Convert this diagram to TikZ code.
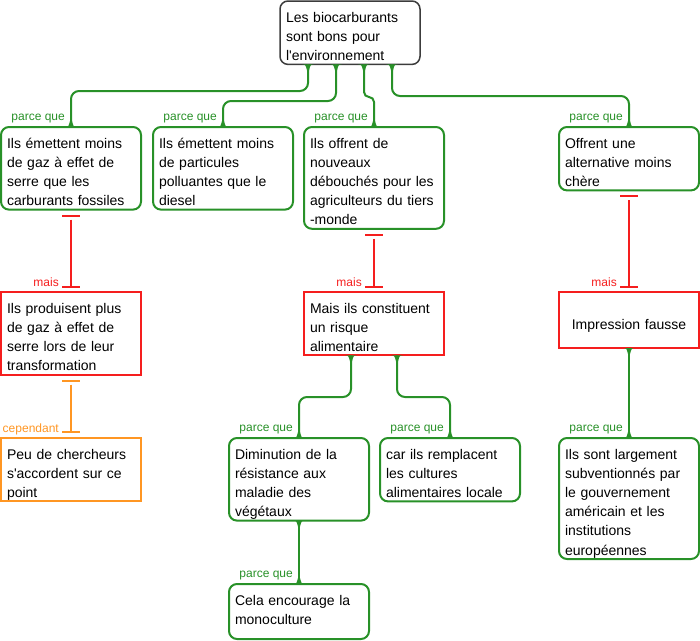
\documentclass[tikz,border=0pt]{standalone}
\usepackage{fontspec}
\newfontfamily\lsans{Liberation Sans}
\usetikzlibrary{calc}
\definecolor{gcol}{RGB}{40,145,40}
\definecolor{rcol}{RGB}{245,30,30}
\definecolor{ocol}{RGB}{255,150,35}
\definecolor{kcol}{RGB}{60,60,60}
\begin{document}
\begin{tikzpicture}[x=1pt,y=-1pt,
  box/.style={anchor=north west, outer sep=0pt, align=left, inner xsep=6pt, inner ysep=0pt,
    text height=21pt, line width=2pt, font=\lsans\fontsize{14}{19.2}\selectfont, fill=white},
  gbox/.style={box, draw=gcol, rounded corners=8pt},
  rbox/.style={box, draw=rcol},
  obox/.style={box, draw=ocol},
  kbox/.style={box, draw=kcol, rounded corners=8pt, line width=1.5pt},
  gconn/.style={draw=gcol, line width=2pt, rounded corners=8pt},
  rconn/.style={draw=rcol, line width=2pt},
  oconn/.style={draw=ocol, line width=2pt},
  lab/.style={anchor=base east, inner sep=0pt, font=\lsans\fontsize{12}{14}\selectfont},
  fdn/.pic={\fill (-6,0) .. controls (-2.5,0.3) .. (-1,6) -- (1,6) .. controls (2.5,0.3) .. (6,0) -- cycle;},
  fup/.pic={\fill (-6,0) .. controls (-2.5,-0.3) .. (-1,-6) -- (1,-6) .. controls (2.5,-0.3) .. (6,0) -- cycle;}
]
\useasboundingbox (0,0) rectangle (700,640);

% boxes
\node[kbox, text width=128pt, text depth=42.4pt] (R) at (280,1) {Les biocarburants\\sont bons pour\\l'environnement};
\node[gbox, text width=128pt, text depth=61.6pt] (A) at (1,127) {Ils émettent moins\\de gaz à effet de\\serre que les\\carburants fossiles};
\node[gbox, text width=128pt, text depth=61.6pt] (B) at (153,127) {Ils émettent moins\\de particules\\polluantes que le\\diesel};
\node[gbox, text width=128pt, text depth=80.8pt] (C) at (304,127) {Ils offrent de\\nouveaux\\débouchés pour les\\agriculteurs du tiers\\-monde};
\node[gbox, text width=128pt, text depth=42.4pt] (D) at (559,127) {Offrent une\\alternative moins\\chère};
\node[rbox, text width=128pt, text depth=61.6pt] (E) at (1,292) {Ils produisent plus\\de gaz à effet de\\serre lors de leur\\transformation};
\node[rbox, text width=128pt, text depth=42.4pt] (F) at (304,292) {Mais ils constituent\\un risque\\alimentaire};
\node[rbox, text width=128pt, text height=37pt, text depth=19pt, align=center] (G) at (559,292) {Impression fausse};
\node[obox, text width=128pt, text depth=42.4pt] (H) at (1,438) {Peu de chercheurs\\s'accordent sur ce\\point};
\node[gbox, text width=128pt, text depth=61.6pt] (I) at (229,438) {Diminution de la\\résistance aux\\maladie des\\végétaux};
\node[gbox, text width=128pt, text depth=42.4pt] (J) at (380,438) {car ils remplacent\\les cultures\\alimentaires locale};
\node[gbox, text width=128pt, text depth=100pt] (K) at (559,438) {Ils sont largement\\subventionnés par\\le gouvernement\\américain et les\\institutions\\européennes};
\node[gbox, text width=128pt, text depth=34pt] (L) at (229,584) {Cela encourage la\\monoculture};

% green connectors
\draw[gconn] ([xshift=28pt]R.south west) -- ++(0,26.6) -| (A.north);
\draw[gconn] ([xshift=56pt]R.south west) -- ++(0,36.6) -| (B.north);
\draw[gconn, rounded corners=5pt] ([xshift=84pt]R.south west) -- ++(0,32.6) -| (C.north);
\draw[gconn] ([xshift=112pt]R.south west) -- ++(0,31.6) -| (D.north);
\draw[gconn] ([xshift=47pt]F.south west) -- ++(0,41.6) -| (I.north);
\draw[gconn] ([xshift=93pt]F.south west) -- ++(0,41.6) -| (J.north);
\draw[gconn] (I.south) -- (L.north);
\draw[gconn] (G.south) -- (K.north);

\foreach \s in {28,56,84,112} {\pic[color=gcol] at ([xshift=\s pt]R.south west) {fdn};}
\pic[color=gcol] at ([xshift=47pt]F.south west) {fdn};
\pic[color=gcol] at ([xshift=93pt]F.south west) {fdn};
\pic[color=gcol] at (I.south) {fdn};
\pic[color=gcol] at (G.south) {fdn};
\foreach \n in {A,B,C,D,I,J,K,L} {\pic[color=gcol] at (\n.north) {fup};}

% green labels
\foreach \n in {A,B,C,D,I,J,K,L} {\node[lab, text=gcol] (p\n) at ([xshift=-6pt,yshift=7pt]\n.north) {parce que};}

% red connectors
\draw[rconn] ([yshift=-6pt]A.south) ++(-9,0) -- ++(18,0);
\draw[rconn] ([yshift=-10pt]A.south) -- ([yshift=5.5pt]E.north);
\draw[rconn] ([yshift=5.5pt]E.north) ++(-9,0) -- ++(18,0);
\node[lab, text=rcol] (mE) at ([xshift=-12pt,yshift=5.5pt]E.north) {mais};

\draw[rconn] ([yshift=-6pt]C.south) ++(-9,0) -- ++(18,0);
\draw[rconn] ([yshift=-10pt]C.south) -- ([yshift=5.5pt]F.north);
\draw[rconn] ([yshift=5.5pt]F.north) ++(-9,0) -- ++(18,0);
\node[lab, text=rcol] (mF) at ([xshift=-12pt,yshift=5.5pt]F.north) {mais};

\draw[rconn] ([yshift=-6pt]D.south) ++(-9,0) -- ++(18,0);
\draw[rconn] ([yshift=-10pt]D.south) -- ([yshift=5.5pt]G.north);
\draw[rconn] ([yshift=5.5pt]G.north) ++(-9,0) -- ++(18,0);
\node[lab, text=rcol] (mG) at ([xshift=-12pt,yshift=5.5pt]G.north) {mais};

% orange connector
\draw[oconn] ([yshift=-6pt]E.south) ++(-9,0) -- ++(18,0);
\draw[oconn] ([yshift=-10pt]E.south) -- ([yshift=6pt]H.north);
\draw[oconn] ([yshift=6pt]H.north) ++(-9,0) -- ++(18,0);
\node[lab, text=ocol] (cH) at ([xshift=-12pt,yshift=6pt]H.north) {cependant};
\end{tikzpicture}
\end{document}
